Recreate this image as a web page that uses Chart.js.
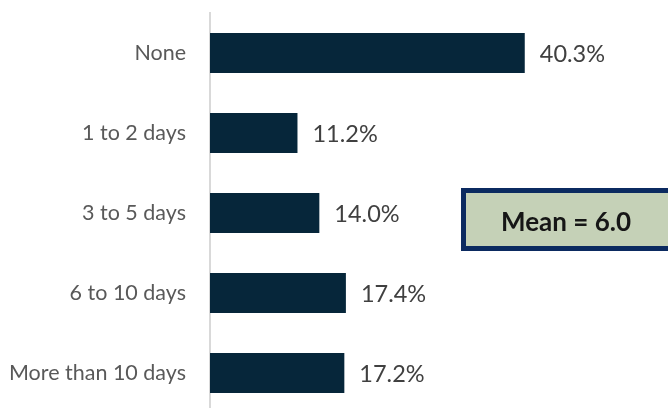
<!DOCTYPE html>
<html lang="en">
<head>
  <meta charset="UTF-8" />
  <title>Days</title>
  <script src="https://cdn.jsdelivr.net/npm/chart.js@4.4.0/dist/chart.umd.min.js"></script>
  <style>
    html, body { margin: 0; padding: 0; background: #fff; overflow: hidden; }
    #wrap { position: absolute; left: 0; top: 0; width: 668px; height: 416px; }
  </style>
</head>
<body>
  <div id="wrap"><canvas id="daysChart" width="668" height="416"></canvas></div>
  <script>
    const categories = ["None", "1 to 2 days", "3 to 5 days", "6 to 10 days", "More than 10 days"];
    const percents = [40.3, 11.2, 14.0, 17.4, 17.2];
    const meanLabel = "Mean = 6.0";

    // value text at the end of each bar
    const barLabels = {
      id: "barLabels",
      afterDatasetsDraw(chart) {
        const ctx = chart.ctx;
        const meta = chart.getDatasetMeta(0);
        ctx.save();
        ctx.font = "23.5px Lato";
        ctx.fillStyle = "#404040";
        ctx.textAlign = "left";
        ctx.textBaseline = "middle";
        meta.data.forEach((bar, i) => {
          ctx.fillText(percents[i].toFixed(1) + "%", bar.x + 15, bar.y + 1);
        });
        ctx.restore();
      }
    };

    // boxed mean note on the right
    const meanBox = {
      id: "meanBox",
      afterDraw(chart) {
        const ctx = chart.ctx;
        const x = 461, y = 188, w = 215, h = 63;
        ctx.save();
        ctx.fillStyle = "#c5d1b7";
        ctx.fillRect(x, y, w, h);
        ctx.strokeStyle = "#0b2a60";
        ctx.lineWidth = 5;
        ctx.strokeRect(x + 2.5, y + 2.5, w - 5, h - 5);
        ctx.font = "bold 26px Lato";
        ctx.fillStyle = "#161616";
        ctx.textAlign = "center";
        ctx.textBaseline = "middle";
        ctx.fillText(meanLabel, 566, 223);
        ctx.restore();
      }
    };

    new Chart(document.getElementById("daysChart").getContext("2d"), {
      type: "bar",
      data: {
        labels: categories,
        datasets: [{
          data: percents,
          backgroundColor: "#06263a",
          barPercentage: 0.5,
          categoryPercentage: 1
        }]
      },
      options: {
        indexAxis: "y",
        responsive: false,
        animation: false,
        layout: { padding: { top: 13, bottom: 3, right: 5, left: 0 } },
        plugins: { legend: { display: false }, tooltip: { enabled: false } },
        scales: {
          x: { display: false, min: 0, max: 58 },
          y: {
            afterFit(scale) {
              scale.width = 210;
              scale.paddingTop = 0;
              scale.paddingBottom = 0;
            },
            grid: { display: false },
            border: { display: true, color: "#d9d9d9", width: 2 },
            ticks: { font: { family: "Lato", size: 21.5 }, color: "#595959", padding: 16 }
          }
        }
      },
      plugins: [barLabels, meanBox]
    });
  </script>
</body>
</html>
